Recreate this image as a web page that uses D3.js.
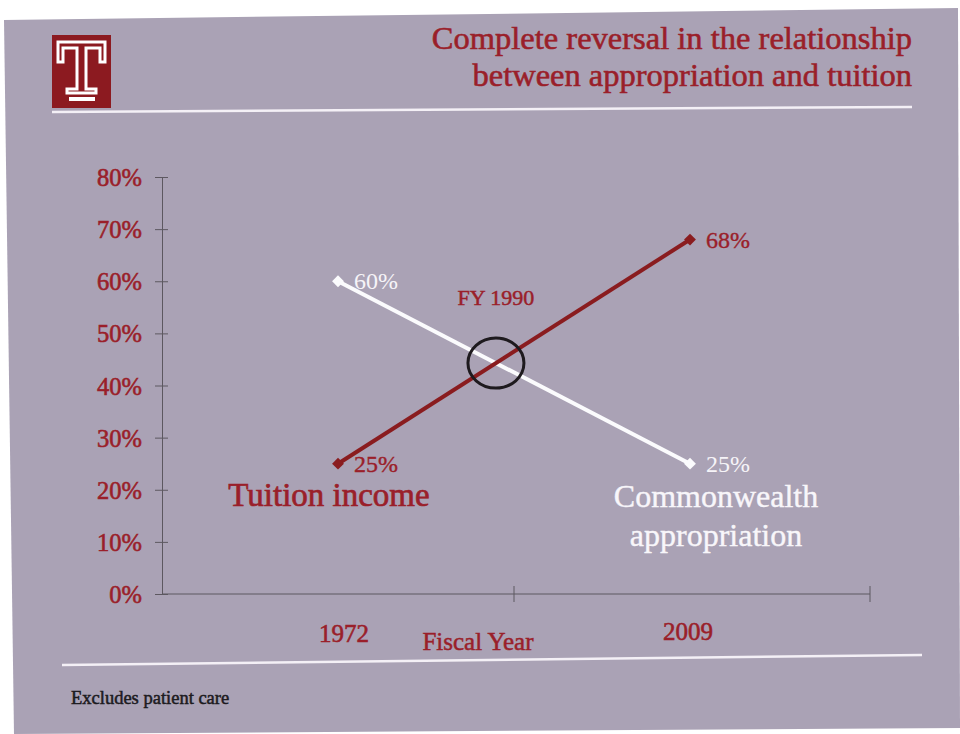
<!DOCTYPE html>
<html><head><meta charset="utf-8">
<script src="https://cdn.jsdelivr.net/npm/d3@7"></script>
<style>body{margin:0;background:#fff}svg{display:block}</style>
</head><body>
<svg id="c" width="960" height="734"></svg>
<script>
const years = ["1972", "2009"];
const tuition = [0.25, 0.68];
const appropriation = [0.60, 0.25];
const yTicks = [0, 0.1, 0.2, 0.3, 0.4, 0.5, 0.6, 0.7, 0.8];
const titleLines = ["Complete reversal in the relationship", "between appropriation and tuition"];
const intersectionLabel = "FY 1990";

const RED = "#9a1f2a", LINE_RED = "#8a1c1f", BG = "#aaa2b5", FONT = "'Liberation Serif', 'DejaVu Serif', serif";
const svg = d3.select("#c");
const thick = (sel, c, w) => sel.attr("stroke", c).attr("stroke-width", w).attr("paint-order", "stroke");

svg.append("polygon").attr("points", "4,20 958,8 960,728 14,734").attr("fill", BG);

// logo
const logo = svg.append("g");
logo.append("rect").attr("x", 52).attr("y", 35).attr("width", 59).attr("height", 73).attr("fill", "#8c1a20");
logo.append("path").attr("d", "M58,62 V42 H105 V62 H100 V48 H86 V89 H96 V93 H67 V89 H77 V48 H63 V62 Z")
  .attr("fill", "none").attr("stroke", "#fff").attr("stroke-width", 3);
logo.append("rect").attr("x", 69).attr("y", 97).attr("width", 26).attr("height", 4).attr("fill", "#fff");

// title
const title = svg.append("text").attr("font-family", FONT).attr("font-size", 32.5).attr("fill", RED).attr("text-anchor", "end");
thick(title, RED, 0.6);
title.selectAll("tspan").data(titleLines).join("tspan")
  .attr("x", 912).attr("y", (d, i) => 49 + i * 37).text(d => d);

// separators
svg.append("line").attr("x1", 52).attr("y1", 112).attr("x2", 912).attr("y2", 107).attr("stroke", "#f4f0f6").attr("stroke-width", 2.5);
svg.append("line").attr("x1", 62).attr("y1", 665).attr("x2", 922).attr("y2", 655).attr("stroke", "#f4f0f6").attr("stroke-width", 2.5);

// scales
const x = d3.scaleBand().domain(years).range([162, 866]);
const y = d3.scaleLinear().domain([0, 0.8]).range([594, 177]);

// y axis
const yAxis = svg.append("g").attr("transform", "translate(162,0)")
  .call(d3.axisLeft(y).tickValues(yTicks).tickFormat(d3.format(".0%")).tickSizeInner(6).tickSizeOuter(0));
yAxis.select(".domain").attr("stroke", "#5d5860");
yAxis.selectAll(".tick line").attr("stroke", "#5d5860").attr("x2", 6).attr("x1", -7);
const yt = yAxis.selectAll(".tick text").attr("font-family", FONT).attr("font-size", 24.5).attr("fill", RED).attr("x", -20).attr("dy", "0.35em");
thick(yt, RED, 0.6);

// x axis line with ticks at band boundaries
const xAxisG = svg.append("g");
xAxisG.append("line").attr("x1", 162).attr("x2", 870).attr("y1", y(0)).attr("y2", y(0)).attr("stroke", "#5d5860");
const bounds = [x.range()[0], x(years[1]), 870];
xAxisG.selectAll("line.t").data(bounds.slice(1)).join("line").attr("class", "t")
  .attr("x1", d => d).attr("x2", d => d).attr("y1", y(0) - 8).attr("y2", y(0) + 8).attr("stroke", "#5d5860");
const xt = xAxisG.selectAll("text").data(years).join("text")
  .attr("x", d => x(d) + x.bandwidth() / 2 + (d === years[0] ? 6 : -2)).attr("y", (d, i) => 642 - i * 2)
  .attr("text-anchor", "middle").attr("font-family", FONT).attr("font-size", 25).attr("fill", RED).text(d => d);
thick(xt, RED, 0.6);
const fy = svg.append("text").attr("x", 478).attr("y", 650).attr("text-anchor", "middle").attr("font-family", FONT)
  .attr("font-size", 25).attr("fill", RED).text("Fiscal Year");
thick(fy, RED, 0.5);

const cx = d => x(d) + x.bandwidth() / 2;
const line = d3.line().x((d, i) => cx(years[i])).y(d => y(d));

// lines
svg.append("path").datum(appropriation).attr("d", line).attr("fill", "none").attr("stroke", "#fbfbfd").attr("stroke-width", 4);
svg.append("path").datum(tuition).attr("d", line).attr("fill", "none").attr("stroke", LINE_RED).attr("stroke-width", 4);

const diamond = d3.symbol().type(d3.symbolSquare).size(70);
svg.selectAll("path.ma").data(appropriation).join("path").attr("class", "ma")
  .attr("transform", (d, i) => `translate(${cx(years[i])},${y(d)}) rotate(45)`).attr("d", diamond).attr("fill", "#fbfbfd");
svg.selectAll("path.mt").data(tuition).join("path").attr("class", "mt")
  .attr("transform", (d, i) => `translate(${cx(years[i])},${y(d)}) rotate(45)`).attr("d", diamond).attr("fill", LINE_RED);

// value labels
const fmt = d3.format(".0%");
svg.selectAll("text.va").data(appropriation).join("text").attr("class", "va")
  .attr("x", (d, i) => cx(years[i]) + 16).attr("y", (d, i) => y(d) + 8)
  .attr("font-family", FONT).attr("font-size", 24).attr("fill", "#f6f4f8").text(fmt);
const vt = svg.selectAll("text.vt").data(tuition).join("text").attr("class", "vt")
  .attr("x", (d, i) => cx(years[i]) + 16).attr("y", (d, i) => y(d) + 8)
  .attr("font-family", FONT).attr("font-size", 24).attr("fill", RED).text(fmt);
thick(vt, RED, 0.4);

// intersection
const t0 = tuition[0], t1 = tuition[1], a0 = appropriation[0], a1 = appropriation[1];
const f = (a0 - t0) / ((t1 - t0) - (a1 - a0));
const ix = cx(years[0]) + f * (cx(years[1]) - cx(years[0]));
const iy = y(t0 + f * (t1 - t0));
svg.append("ellipse").attr("cx", ix).attr("cy", iy).attr("rx", 28).attr("ry", 25)
  .attr("fill", "none").attr("stroke", "#1e1a1e").attr("stroke-width", 3);
const fyl = svg.append("text").attr("x", ix).attr("y", 305).attr("text-anchor", "middle").attr("font-family", FONT)
  .attr("font-size", 22).attr("fill", RED).text(intersectionLabel);
thick(fyl, RED, 0.5);

// series names
const ti = svg.append("text").attr("x", 329).attr("y", 506).attr("text-anchor", "middle").attr("font-family", FONT)
  .attr("font-size", 33).attr("fill", RED).text("Tuition income");
thick(ti, RED, 0.7);
const cw = svg.append("text").attr("text-anchor", "middle").attr("font-family", FONT).attr("font-size", 32).attr("fill", "#f8f6fa");
thick(cw, "#f8f6fa", 0.4);
cw.selectAll("tspan").data(["Commonwealth", "appropriation"]).join("tspan")
  .attr("x", 716).attr("y", (d, i) => 507 + i * 39).text(d => d);

// footnote
const fn = svg.append("text").attr("x", 71).attr("y", 704).attr("font-family", FONT).attr("font-size", 18.5)
  .attr("fill", "#1c1a1e").text("Excludes patient care");
thick(fn, "#1c1a1e", 0.5);
</script>
</body></html>
